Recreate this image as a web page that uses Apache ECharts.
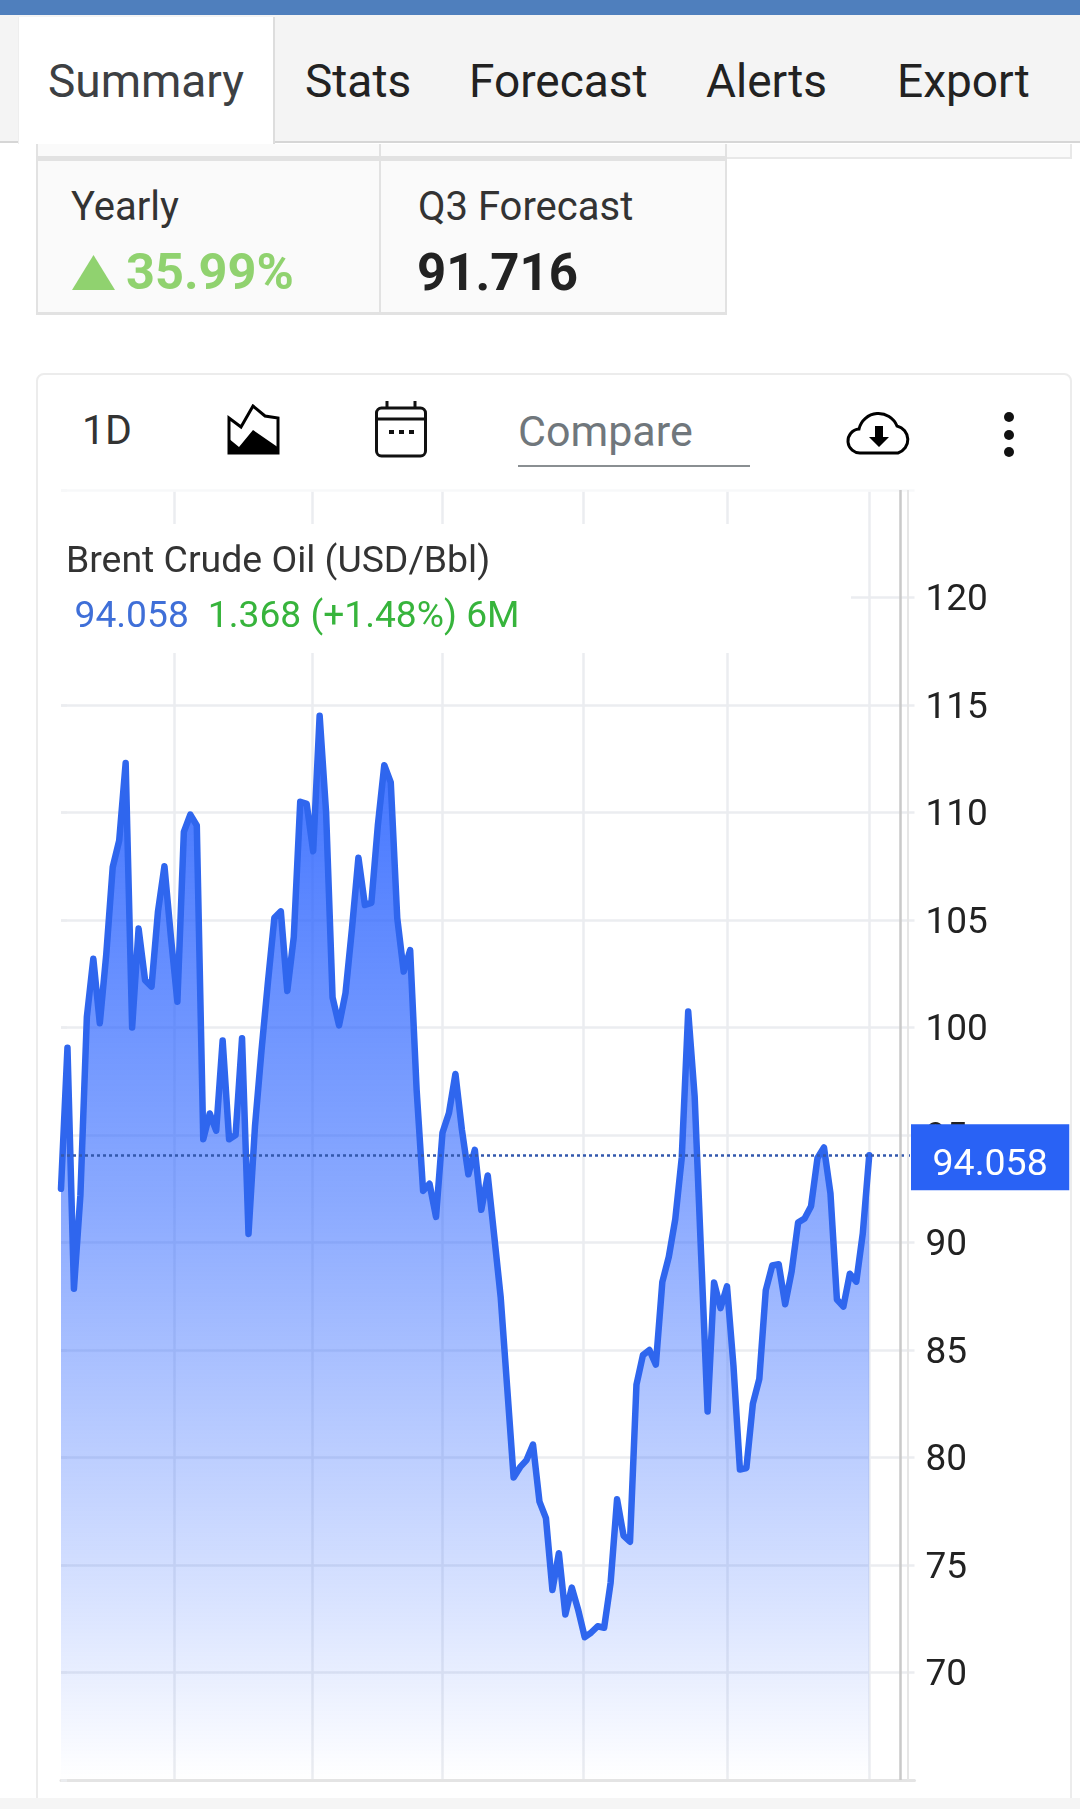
<!DOCTYPE html>
<html>
<head>
<meta charset="utf-8">
<script src="https://cdn.jsdelivr.net/npm/echarts@6/dist/echarts.min.js"></script>
<style>
html,body{margin:0;padding:0;background:#fff;}
#page{position:relative;width:1080px;height:1809px;overflow:hidden;font-family:Roboto,sans-serif;color:#222;}
#page>div,#page>svg{position:absolute;box-sizing:border-box;}
.t{white-space:nowrap;line-height:1;}
#chart{left:0;top:0;width:1080px;height:1809px;}
</style>
</head>
<body>
<div id="page">
  <div style="left:0;top:0;width:1080px;height:15px;background:#4f7fbd"></div>
  <div style="left:0;top:15px;width:1080px;height:128px;background:#f4f4f4;border-bottom:2px solid #d6d6d6"></div>
  <div style="left:18px;top:17px;width:257px;height:127px;background:#fff;border-right:2px solid #ddd;border-left:1px solid #eee"></div>

  <div style="left:36px;top:144px;width:345px;height:15px;background:#fafafa;border:solid #e2e2e2;border-width:0 2px 3px 2px"></div>
  <div style="left:381px;top:144px;width:346px;height:15px;background:#fafafa;border:solid #e2e2e2;border-width:0 2px 3px 0"></div>
  <div style="left:727px;top:144px;width:345px;height:15px;background:#fafafa;border:solid #e8e8e8;border-width:0 2px 2px 0"></div>
  <div style="left:36px;top:159px;width:345px;height:156px;background:#fafafa;border:solid #e2e2e2;border-width:2px 2px 3px 2px"></div>
  <div style="left:381px;top:159px;width:346px;height:156px;background:#fafafa;border:solid #e2e2e2;border-width:2px 2px 3px 0"></div>
  <div style="left:36px;top:373px;width:1036px;height:1444px;border:2px solid #ececec;border-radius:8px"></div>
  <div style="left:0;top:1798px;width:1080px;height:11px;background:#f5f5f5;z-index:3"></div>

  <div class="t" style="left:48px;top:58px;font-size:46px;color:#3d4043">Summary</div>
  <div class="t" style="left:305px;top:58px;font-size:46px;color:#222">Stats</div>
  <div class="t" style="left:469px;top:58px;font-size:46px;color:#222">Forecast</div>
  <div class="t" style="left:706px;top:58px;font-size:46px;color:#222">Alerts</div>
  <div class="t" style="left:897px;top:58px;font-size:46px;color:#222">Export</div>

  <div class="t" style="left:71px;top:187px;font-size:40px;color:#333">Yearly</div>
  <div class="t" style="left:418px;top:187px;font-size:40px;color:#333">Q3 Forecast</div>
  <svg style="left:72px;top:255px" width="43" height="35"><polygon points="21.5,0 43,35 0,35" fill="#90d26f"/></svg>
  <div class="t" style="left:126px;top:247px;font-size:50.5px;font-weight:700;color:#90d26f">35.99%</div>
  <div class="t" style="left:417px;top:247px;font-size:51px;font-weight:700;color:#222">91.716</div>

  <div class="t" style="left:82px;top:410px;font-size:41px;color:#333">1D</div>
  <svg style="left:226px;top:404px" width="56" height="52">
    <path d="M3 49V14L15 23L27 2L39 12L52 14V49z" fill="#fff" stroke="#000" stroke-width="3"/>
    <path d="M2 50V34L13 43L27 26L53 44V50z" fill="#000"/>
  </svg>
  <svg style="left:374px;top:399px" width="54" height="60" fill="none" stroke="#111" stroke-width="3">
    <rect x="2.5" y="9" width="49" height="48" rx="5"/><path d="M3 20h48M13 2v7M41 2v7" />
    <path d="M15 33h5M25 33h5M35 33h5" stroke-width="4"/>
  </svg>
  <div class="t" style="left:518px;top:410px;font-size:43px;color:#70777c">Compare</div>
  <div style="left:518px;top:465px;width:232px;height:2px;background:#8a8f92"></div>
  <svg style="left:846px;top:409px" width="66" height="48">
    <path d="M15 44a12 12 0 0 1-2-24 20 20 0 0 1 38-3 14 14 0 0 1 1 27z" fill="#fff" stroke="#000" stroke-width="3"/>
    <path d="M29 17h8v11h6L33 38 23 28h6z" fill="#000"/>
  </svg>
  <svg style="left:1000px;top:408px" width="18" height="54" fill="#111"><circle cx="9" cy="9" r="5"/><circle cx="9" cy="27" r="5"/><circle cx="9" cy="44" r="5"/></svg>

  <div id="chart"></div>
</div>
<script>
// One closing value per trading day, six months.
var closes = [
  92.5, 99.06, 87.85, 92.2, 100.5, 103.2, 100.2, 103.4, 107.46, 108.7,
  112.3, 100.0, 104.6, 102.2, 101.9, 105.4, 107.5, 104.2, 101.2, 109.1,
  109.9, 109.4, 94.8, 96.0, 95.2, 99.4, 94.8, 95.0, 99.5, 90.4,
  95.4, 98.9, 102.1, 105.1, 105.4, 101.7, 104.2, 110.5, 110.4, 108.2,
  114.5, 110.0, 101.4, 100.1, 101.6, 104.6, 107.9, 105.7, 105.8, 109.4,
  112.2, 111.4, 105.1, 102.6, 103.6, 97.1,
  92.4, 92.73, 91.19, 95.1, 96.02, 97.84, 95.25, 93.17, 94.31, 91.52,
  93.12, 90.31, 87.46, 83.28, 79.07, 79.55, 79.88, 80.6, 77.95, 77.18,
  73.84, 75.55, 72.7, 73.95, 72.9, 71.64, 71.86, 72.15, 72.08, 74.17,
  78.06, 76.37, 76.08, 83.39, 84.76, 85.0, 84.32, 88.16, 89.33, 91.08,
  93.93, 100.74, 96.79, 89.43, 82.14, 88.14, 86.95, 87.96, 84.27, 79.44,
  79.51, 82.5, 83.66, 87.78, 88.93, 88.99, 87.13, 88.66, 90.93, 91.12,
  91.69, 93.93, 94.42, 92.29, 87.35, 87.02, 88.55, 88.18, 90.42, 94.058
];
var lastSlot = 132;                        // trading-day slots on the time axis, with room after the last close
var monthLines = [17.45, 38.9, 59, 80.7, 103.1, 125];
var edgeLines = [129.8, 130.9];
var yTicks = [65, 70, 75, 80, 85, 90, 95, 100, 105, 110, 115, 120, 125];
var latest = 94.058;
var titleText = 'Brent Crude Oil (USD/Bbl)';
var quoteValue = '94.058';
var quoteChange = '1.368 (+1.48%) 6M';

var FONT = 'Roboto, sans-serif';
var GRID = '#ebedf0';

var chart = echarts.init(document.getElementById('chart'), null, {renderer: 'canvas'});
chart.setOption({
  animation: false,
  backgroundColor: 'transparent',
  textStyle: {fontFamily: FONT},
  title: {
    left: 66, top: 544, padding: 0,
    text: titleText,
    textStyle: {fontFamily: FONT, fontSize: 37.4, fontWeight: 'normal', color: '#333'},
    subtext: '{a|' + quoteValue + '}{b|' + quoteChange + '}',
    itemGap: 18,
    subtextStyle: {
      rich: {
        a: {fontFamily: FONT, fontSize: 37.2, color: '#3f6fd8', padding: [0, 0, 0, 8.5]},
        b: {fontFamily: FONT, fontSize: 37.2, color: '#37b43c', padding: [0, 0, 0, 19]}
      }
    }
  },
  grid: {left: 61, top: 490, bottom: 29, width: 853.5, containLabel: false},
  xAxis: {
    type: 'value',
    min: 0,
    max: lastSlot,
    axisLine: {show: true, onZero: false, lineStyle: {color: '#e4e4e4', width: 3}},
    axisTick: {show: false, customValues: monthLines},
    axisLabel: {show: false, customValues: monthLines},
    splitLine: {show: true, lineStyle: {color: GRID, width: 2.5}}
  },
  yAxis: {
    type: 'value',
    position: 'right',
    min: yTicks[0],
    max: yTicks[yTicks.length - 1],
    interval: 5,
    axisLine: {show: false},
    axisTick: {show: true, length: 6, lineStyle: {color: GRID, width: 2.5}},
    axisLabel: {
      margin: 11,
      formatter: function (v) { return (v === yTicks[0] || v === yTicks[yTicks.length - 1]) ? '' : '{v|' + v + '}'; },
      rich: {v: {fontFamily: FONT, fontSize: 37, color: '#222', padding: [7, 0, 0, 0]}}
    },
    splitLine: {show: true, lineStyle: {color: GRID, width: 2.5}}
  },
  series: [{
    type: 'line',
    data: closes.map(function (v, i) { return [i, v]; }),
    showSymbol: false,
    symbol: 'none',
    clip: false,
    z: 3,
    lineStyle: {color: '#2f66ee', width: 6.5, join: 'round', cap: 'round'},
    areaStyle: {
      origin: 'start',
      opacity: 1,
      color: new echarts.graphic.LinearGradient(0, 0, 0, 1, [
        {offset: 0, color: 'rgba(41,98,255,0.9)'},
        {offset: 0.46, color: 'rgba(41,98,255,0.54)'},
        {offset: 0.83, color: 'rgba(41,98,255,0.18)'},
        {offset: 1, color: 'rgba(41,98,255,0)'}
      ])
    },
    markLine: {
      silent: true,
      symbol: 'none',
      animation: false,
      data: [
        {
          yAxis: latest,
          lineStyle: {type: [3, 3], color: '#3358ad', width: 2.5},
          label: {
            show: true,
            position: 'end',
            distance: -3.5,
            offset: [0, 2],
            formatter: '{q|' + quoteValue + '}',
            rich: {q: {fontFamily: FONT, fontSize: 37.5, color: '#fff', padding: [9, 0, 0, 0]}},
            backgroundColor: '#2962f5',
            padding: [13, 21.5, 6, 21.5],
            borderRadius: 0
          }
        },
        {xAxis: edgeLines[0], lineStyle: {type: 'solid', color: '#c9c9c9', width: 2.5}, label: {show: false}},
        {xAxis: edgeLines[1], lineStyle: {type: 'solid', color: '#e6e6e6', width: 2}, label: {show: false}}
      ]
    }
  }],
  graphic: [
    {type: 'rect', z: 1, silent: true, shape: {x: 55, y: 524, width: 796, height: 129}, style: {fill: '#fff'}},
    {type: 'rect', z: 1, silent: true, shape: {x: 55, y: 488, width: 865, height: 4}, style: {fill: 'rgba(255,255,255,0.6)'}}
  ]
});
</script>
</body>
</html>
